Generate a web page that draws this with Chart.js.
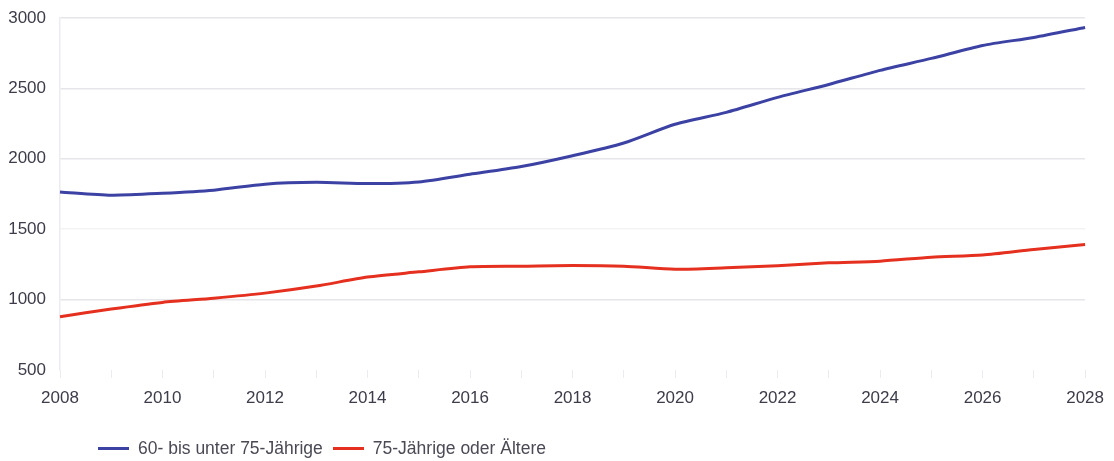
<!DOCTYPE html>
<html lang="de">
<head>
<meta charset="utf-8">
<script src="https://cdn.jsdelivr.net/npm/chart.js@4/dist/chart.umd.min.js"></script>
<style>
    html, body { margin: 0; padding: 0; background: #fff; }
    #wrap { position: relative; width: 1114px; height: 461px; }
    #legend {
        position: absolute; left: 98px; top: 438px;
        font-family: 'Liberation Sans', Arial, sans-serif; font-size: 17.5px; color: #4a4a55;
        display: flex; align-items: center; white-space: nowrap;
    }
    .swatch { display: inline-block; width: 31px; height: 3px; margin-right: 9px; }
    .item { display: flex; align-items: center; margin-right: 10px; }
</style>
</head>
<body>
<div id="wrap">
    <canvas id="chart" width="1114" height="461"></canvas>
    <div id="legend"></div>
</div>
<script>
// Data
const years = ['2008', '2009', '2010', '2011', '2012', '2013', '2014', '2015', '2016', '2017', '2018',
               '2019', '2020', '2021', '2022', '2023', '2024', '2025', '2026', '2027', '2028'];
const age60to75 = [1765, 1742, 1755, 1777, 1820, 1833, 1824, 1836, 1890, 1945, 2022,
                   2112, 2245, 2330, 2436, 2528, 2628, 2713, 2805, 2862, 2933];
const age75plus = [878, 933, 980, 1010, 1046, 1096, 1160, 1197, 1233, 1237, 1242,
                   1237, 1216, 1226, 1240, 1261, 1273, 1301, 1316, 1356, 1391];
const seriesNames = ['60- bis unter 75-Jährige', '75-Jährige oder Ältere'];
const seriesColors = ['#3b42a3', '#e5301f'];
const yTicks = [500, 1000, 1500, 2000, 2500, 3000];

const FONT = "'Liberation Sans', Arial, sans-serif";

const ctx = document.getElementById('chart').getContext('2d');
const chart = new Chart(ctx, {
    type: 'line',
    data: {
        labels: years,
        datasets: [age60to75, age75plus].map((values, i) => ({
            label: seriesNames[i],
            data: values,
            borderColor: seriesColors[i],
            backgroundColor: seriesColors[i],
            borderWidth: 3,
            pointRadius: 0,
            tension: 0.25,
            fill: false
        }))
    },
    options: {
        responsive: false,
        animation: false,
        layout: { padding: { top: 18, right: 27, bottom: 0, left: 0 } },
        plugins: {
            legend: { display: false },
            tooltip: { enabled: false }
        },
        scales: {
            x: {
                offset: false,
                grid: { drawOnChartArea: false, color: '#ececf0', tickLength: 8 },
                border: { display: false },
                ticks: {
                    autoSkip: false,
                    maxRotation: 0,
                    padding: 10,
                    color: '#3c3c4a',
                    font: { family: FONT, size: 17 },
                    callback: (val, idx) => idx % 2 === 0 ? years[idx] : ''
                },
                afterFit: scale => { scale.height = 91; }
            },
            y: {
                min: yTicks[0],
                max: yTicks[yTicks.length - 1],
                afterBuildTicks: scale => { scale.ticks = yTicks.map(v => ({ value: v })); },
                grid: {
                    drawTicks: true,
                    tickLength: 12,
                    tickColor: 'rgba(0,0,0,0)',
                    color: c => c.tick && c.tick.value === 500 ? 'rgba(0,0,0,0)' :
                        (c.tick && c.tick.value === 1500 ? '#f3f3f5' : '#e6e6ea'),
                    lineWidth: 1.5
                },
                border: { display: true, color: '#ececf0', width: 1.5 },
                ticks: {
                    padding: 2,
                    color: '#3c3c4a',
                    font: { family: FONT, size: 17 },
                    callback: v => String(v)
                },
                afterFit: scale => { scale.width = 60; }
            }
        }
    }
});

// HTML legend
const legendEl = document.getElementById('legend');
seriesNames.forEach((name, i) => {
    const item = document.createElement('span');
    item.className = 'item';
    item.innerHTML = `<span class="swatch" style="background:${seriesColors[i]}"></span>${name}`;
    legendEl.appendChild(item);
});
</script>
</body>
</html>
